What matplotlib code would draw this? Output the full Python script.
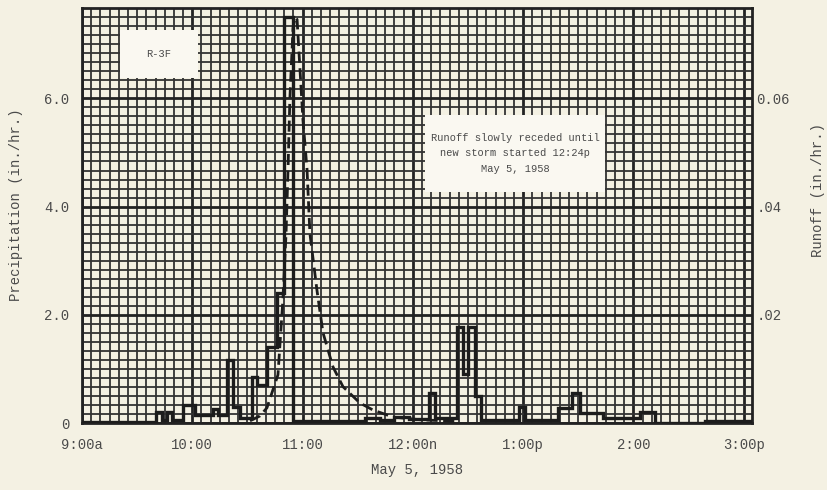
#!/usr/bin/env python3
"""
Hyetograph + runoff hydrograph for plot R-3F, storm of May 5, 1958.
Precipitation as a step trace (left axis), runoff as a dashed curve (right axis),
drawn on old-style graph paper.
"""
import matplotlib
matplotlib.use("Agg")
import matplotlib.pyplot as plt
from matplotlib.patches import Rectangle
from matplotlib.ticker import MultipleLocator

# minutes after 9:00a
precip_edges = [0, 40, 43.5, 46, 49, 55, 61.5, 71, 74, 79, 82, 86, 92.5, 95,
                100.5, 106, 110, 115, 154, 162, 170, 178, 189, 192, 204, 207.5,
                210, 214, 217, 238, 241, 259, 266.5, 271, 283.5, 303.5, 311.5,
                339, 365]
precip_rate = [0.02, 0.2, 0.05, 0.2, 0.05, 0.33, 0.15, 0.25, 0.15, 1.17, 0.3,
               0.1, 0.85, 0.7, 1.4, 2.4, 7.5, 0.03, 0.1, 0.05, 0.12, 0.08, 0.55,
               0.1, 1.78, 0.9, 1.78, 0.5, 0.05, 0.3, 0.05, 0.28, 0.55, 0.18,
               0.1, 0.2, 0.0, 0.04]

runoff_t = [91.4, 96.8, 100.6, 106.6, 109.3, 111.0, 112.1, 113.1, 114.8, 115.9,
            117.0, 120.2, 122.4, 124.0, 127.8, 131.1, 136.5, 142.0, 151.2,
            158.3, 169.2, 183.9, 204.0]
runoff_q = [0.0004, 0.0013, 0.0028, 0.0089, 0.0228, 0.035, 0.047, 0.06, 0.073,
            0.075, 0.0746, 0.056, 0.047, 0.035, 0.0246, 0.0167, 0.0104, 0.0067,
            0.0037, 0.0024, 0.0011, 0.0006, 0.0003]

hour_ticks = [0, 60, 120, 180, 240, 300, 360]
hour_labels = ["9:00a", "10:00", "11:00", "12:00n", "1:00p", "2:00", "3:00p"]
precip_ticks = [0, 2.0, 4.0, 6.0]
precip_labels = ["0", "2.0", "4.0", "6.0"]
runoff_ticks = [0.02, 0.04, 0.06]
runoff_labels = [".02", ".04", "0.06"]

PAPER = "#f4f1e3"
BLANK = "#faf8f1"
INK = "#1c1c1c"
TYPE = "#4a4a4a"
MONO = ["Liberation Mono", "DejaVu Sans Mono"]


def main():
    plt.rcParams["font.family"] = MONO
    fig = plt.figure(figsize=(8.27, 4.90), dpi=100, facecolor=PAPER)
    ax = fig.add_axes([82 / 827, 67 / 490, 670 / 827, 415 / 490])
    ax.set_facecolor(PAPER)

    ymax = 7.67
    ax.set_xlim(0, 364.5)
    ax.set_ylim(0, ymax)

    # graph paper: 5-min / (1/6 in.) cells, heavy line every 12
    ax.xaxis.set_minor_locator(MultipleLocator(5))
    ax.yaxis.set_minor_locator(MultipleLocator(2 / 12))
    ax.set_xticks(hour_ticks, hour_labels)
    ax.set_yticks(precip_ticks, precip_labels)
    ax.grid(which="minor", color="#333333", lw=1.3)
    ax.grid(which="major", color="#222222", lw=2.0)
    ax.tick_params(which="both", length=0, labelsize=10, labelcolor=TYPE)
    ax.tick_params(axis="x", pad=11)
    ax.tick_params(axis="y", pad=9)
    for s in ax.spines.values():
        s.set_linewidth(2.0)
        s.set_color("#222222")

    ax.stairs(precip_rate, precip_edges, baseline=None, color=INK, lw=2.4,
              zorder=4)

    ax2 = ax.twinx()
    ax2.set_ylim(0, ymax / 100)
    ax2.set_yticks(runoff_ticks, runoff_labels)
    ax2.tick_params(length=0, labelsize=10, labelcolor=TYPE, pad=3)
    for s in ax2.spines.values():
        s.set_visible(False)
    ax2.plot(runoff_t, runoff_q, color=INK, lw=2.0, dashes=(4, 2), zorder=4)

    # pasted-on label cards that blank out the grid
    ax.add_patch(Rectangle((0.057, 0.831), 0.116, 0.116, transform=ax.transAxes,
                           facecolor=BLANK, edgecolor="none", zorder=5))
    ax.add_patch(Rectangle((0.512, 0.557), 0.269, 0.186, transform=ax.transAxes,
                           facecolor=BLANK, edgecolor="none", zorder=5))
    ax.text(0.115, 0.889, "R-3F", transform=ax.transAxes, fontsize=7.5,
            color=TYPE, ha="center", va="center", zorder=6)
    ax.text(0.6465, 0.650, "Runoff slowly receded until\nnew storm started 12:24p\n"
            "May 5, 1958", transform=ax.transAxes, fontsize=7.5, color=TYPE,
            ha="center", va="center", linespacing=1.7, zorder=6)

    ax.set_xlabel("May 5, 1958", fontsize=10, color=TYPE, labelpad=8)
    fig.text(16 / 827, 1 - 205 / 490, "Precipitation (in./hr.)", rotation=90,
             fontsize=10, color=TYPE, ha="center", va="center")
    fig.text(818 / 827, 1 - 190 / 490, "Runoff (in./hr.)", rotation=90,
             fontsize=10, color=TYPE, ha="center", va="center")

    fig.savefig("out.png", dpi=100, facecolor=PAPER)


if __name__ == "__main__":
    main()
